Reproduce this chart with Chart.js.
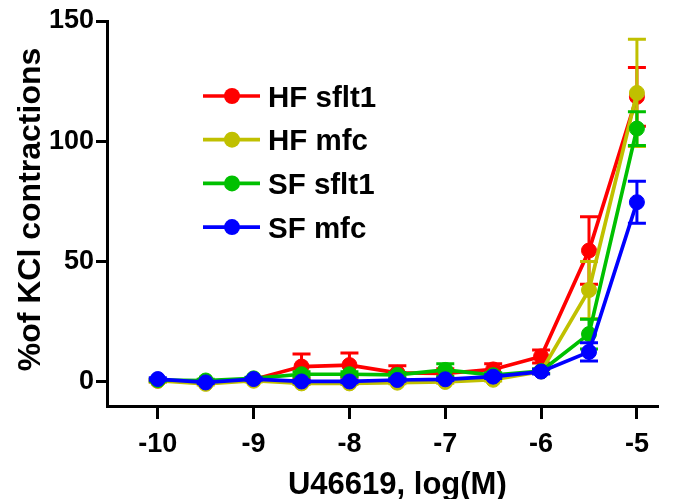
<!DOCTYPE html>
<html>
<head>
<meta charset="utf-8">
<script src="https://cdn.jsdelivr.net/npm/chart.js@4"></script>
<style>
  html, body { margin: 0; padding: 0; background: #fff; }
  #wrap { width: 681px; height: 499px; }
  canvas { display: block; }
</style>
</head>
<body>
<div id="wrap"><canvas id="c" width="681" height="499"></canvas></div>
<script>
// Concentration of U46619, log(M)
const doses = [-10, -9.5, -9, -8.5, -8, -7.5, -7, -6.5, -6, -5.5, -5];

// Mean response (% of KCl contraction) and SEM for each group
const hfSflt1    = [0.5, 0.2, 1.0, 6.4, 7.0, 3.8, 3.5, 5.2, 10.6, 54.6, 118.5];
const hfSflt1Sem = [0.5, 0.5, 0.5, 5.2, 5.0, 2.9, 2.0, 2.4, 2.7, 14.0, 12.2];

const hfMfc      = [0.5, -0.8, 0.5, -0.6, -0.6, -0.3, 0.0, 0.9, 4.3, 38.2, 120.1];
const hfMfcSem   = [0.5, 0.5, 0.5, 0.5, 0.5, 0.5, 0.5, 0.5, 0.8, 11.9, 22.3];

const sfSflt1    = [0.8, 0.6, 1.5, 3.2, 3.2, 2.9, 5.0, 2.8, 4.5, 19.9, 105.3];
const sfSflt1Sem = [0.5, 0.5, 0.5, 1.0, 1.0, 1.0, 2.6, 1.0, 1.0, 6.2, 7.0];

const sfMfc      = [1.2, -0.2, 1.2, 0.2, 0.2, 0.8, 1.1, 2.2, 4.3, 12.5, 74.7];
const sfMfcSem   = [0.5, 0.5, 0.5, 0.5, 0.5, 0.5, 0.5, 0.8, 1.0, 3.8, 8.7];

const seriesNames  = ['HF sflt1', 'HF mfc', 'SF sflt1', 'SF mfc'];
const seriesColors = ['#ff0000', '#c0c000', '#00c000', '#0000ff'];

const xTicks = [-10, -9, -8, -7, -6, -5];
const yTicks = [0, 50, 100, 150];

const xTitle = 'U46619, log(M)';
const yTitle = '%of KCl contractions';

const FONT = '"Liberation Sans", Arial, Helvetica, sans-serif';

const means = [hfSflt1, hfMfc, sfSflt1, sfMfc];
const sems  = [hfSflt1Sem, hfMfcSem, sfSflt1Sem, sfMfcSem];

const datasets = seriesNames.map((name, i) => ({
  label: name,
  data: doses.map((d, k) => ({ x: d, y: means[i][k] })),
  sem: sems[i],
  borderColor: seriesColors[i],
  backgroundColor: seriesColors[i],
  pointBackgroundColor: seriesColors[i],
  pointBorderColor: seriesColors[i],
  borderWidth: 3.7,
  pointRadius: 7.5,
  pointBorderWidth: 1,
  pointHoverRadius: 7.5,
  tension: 0,
  order: seriesNames.length - 1 - i,   // later series painted on top
  clip: false
}));

// SEM bars with caps, painted just before each series' own line and markers
const errorBars = {
  id: 'errorBars',
  beforeDatasetDraw(chart, args) {
    const ds = chart.data.datasets[args.index];
    const meta = args.meta;
    const ys = chart.scales.y;
    const ctx = chart.ctx;
    ctx.save();
    ctx.strokeStyle = ds.borderColor;
    ctx.lineWidth = 3;
    ctx.lineCap = 'butt';
    meta.data.forEach((pt, k) => {
      const m = ds.data[k].y, e = ds.sem[k];
      const yTop = ys.getPixelForValue(m + e);
      const yBot = ys.getPixelForValue(m - e);
      const x = pt.x;
      ctx.beginPath();
      ctx.moveTo(x, yTop); ctx.lineTo(x, yBot);
      ctx.moveTo(x - 9, yTop); ctx.lineTo(x + 9, yTop);
      ctx.moveTo(x - 9, yBot); ctx.lineTo(x + 9, yBot);
      ctx.stroke();
    });
    ctx.restore();
  }
};

// Legend inside the plot: line + marker + label
const innerLegend = {
  id: 'innerLegend',
  afterDraw(chart) {
    const ctx = chart.ctx;
    ctx.save();
    chart.data.datasets.forEach((ds, i) => {
      const y = 96 + i * 43.7;
      ctx.strokeStyle = ds.borderColor;
      ctx.lineWidth = 3.7;
      ctx.beginPath();
      ctx.moveTo(203, y); ctx.lineTo(260, y);
      ctx.stroke();
      ctx.fillStyle = ds.borderColor;
      ctx.beginPath();
      ctx.arc(232, y, 8, 0, Math.PI * 2);
      ctx.fill();
      ctx.fillStyle = '#000';
      ctx.font = 'bold 29.5px ' + FONT;
      ctx.textAlign = 'left';
      ctx.textBaseline = 'alphabetic';
      ctx.fillText(ds.label, 268, y + 10.5);
    });
    ctx.restore();
  }
};

// Axis titles
const axisTitles = {
  id: 'axisTitles',
  afterDraw(chart) {
    const ctx = chart.ctx;
    const xs = chart.scales.x;
    ctx.save();
    ctx.fillStyle = '#000';
    ctx.textBaseline = 'alphabetic';
    ctx.textAlign = 'center';
    ctx.font = 'bold 31px ' + FONT;
    const cx = (xs.getPixelForValue(xTicks[0]) + xs.getPixelForValue(xTicks[xTicks.length - 1])) / 2;
    ctx.fillText(xTitle, cx, 494);
    ctx.translate(40, 209.5);
    ctx.rotate(-Math.PI / 2);
    ctx.font = 'bold 32px ' + FONT;
    ctx.fillText(yTitle, 0, 0);
    ctx.restore();
  }
};

new Chart(document.getElementById('c'), {
  type: 'line',
  data: { datasets },
  options: {
    responsive: false,
    devicePixelRatio: 1,
    animation: false,
    events: [],
    layout: { padding: { left: 0, right: 23, top: 21, bottom: 0 } },
    plugins: { legend: { display: false }, tooltip: { enabled: false } },
    scales: {
      x: {
        type: 'linear',
        min: -10.53,
        max: -4.78,
        afterBuildTicks: s => { s.ticks = xTicks.map(v => ({ value: v })); },
        afterFit: s => { s.height = 93; },
        grid: { display: true, drawOnChartArea: false, drawTicks: true, tickLength: 13, tickWidth: 3, tickColor: '#000' },
        border: { display: true, width: 3, color: '#000' },
        ticks: { color: '#000', padding: 9, maxRotation: 0, font: { family: FONT, size: 27, weight: 'bold' } }
      },
      y: {
        type: 'linear',
        min: -10,
        max: 150,
        afterBuildTicks: s => { s.ticks = yTicks.map(v => ({ value: v })); },
        afterFit: s => { s.width = 107; },
        grid: { display: true, drawOnChartArea: false, drawTicks: true, tickLength: 11, tickWidth: 3, tickColor: '#000' },
        border: { display: true, width: 3, color: '#000' },
        ticks: { color: '#000', padding: 2, font: { family: FONT, size: 27, weight: 'bold' } }
      }
    }
  },
  plugins: [errorBars, innerLegend, axisTitles]
});
</script>
</body>
</html>
